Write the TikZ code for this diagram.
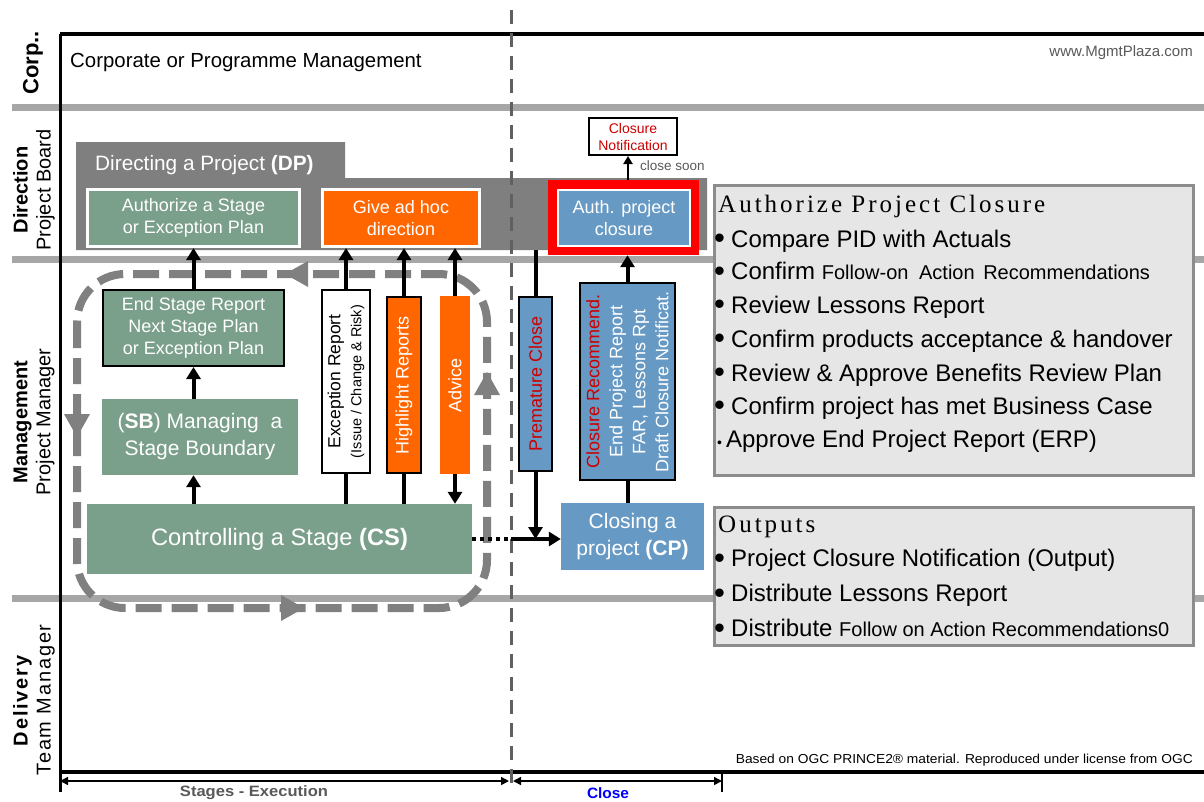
\documentclass[tikz,border=0pt]{standalone}
\usepackage{fontspec}
\usepackage{graphicx}
\setmainfont{Liberation Sans}
\newfontfamily\ttlfont[LetterSpace=12]{Liberation Serif}
\newfontfamily\lsfont[LetterSpace=9]{Liberation Sans}
\usetikzlibrary{arrows.meta,calc}
\definecolor{sage}{HTML}{7A9F8A}
\definecolor{pblue}{HTML}{6699C4}
\definecolor{porange}{HTML}{FF6600}
\definecolor{dpgray}{HTML}{7F7F7F}
\definecolor{bandgray}{HTML}{A6A6A6}
\definecolor{loopgray}{HTML}{808080}
\definecolor{rfill}{HTML}{E6E6E6}
\definecolor{rgray}{HTML}{8C8C8C}
\definecolor{cred}{HTML}{CC0000}
\definecolor{divgray}{HTML}{606060}
\definecolor{txtgray}{HTML}{595959}
\newcommand{\fs}[2]{\fontsize{#1}{#2}\selectfont}
\newcommand{\bul}{\hspace{-2pt}\makebox[9pt][l]{\raisebox{-1.5pt}{\fs{31}{26}•}}\hspace{8pt}}
\begin{document}
\begin{tikzpicture}[x=1pt,y=-1pt,
  box/.style={inner sep=0pt, align=center, text=white},
  arr/.style={line width=4pt, -{Triangle[length=12pt,width=14pt]}},
  plainln/.style={line width=4pt},
  band/.style={line width=7pt, bandgray},
  rline/.style={anchor=base west, inner sep=0pt, font=\fs{24}{26}},
  rttl/.style={anchor=base west, inner sep=0pt, font=\ttlfont\fs{25}{27}},
  lanelbl/.style={rotate=90, align=center, inner sep=0pt},
  looparrow/.style={fill=loopgray}
]
\useasboundingbox (0,0) rectangle (1204,801);
\fill[white] (0,0) rectangle (1204,801);

% swimlane bands
\draw[band] (12,107) -- (1204,107);
\draw[band] (12,259) -- (1204,259);
\draw[band] (12,598) -- (1204,598);

% frame
\draw[line width=3.5pt] (60,34) -- (1204,34);
\draw[line width=3pt] (60,34) -- (60,792);
\draw[line width=4pt] (60,772) -- (1204,772);

% lane labels
\node[lanelbl, font=\fs{22}{24}\bfseries] (corp) at (33,63) {Corp..};
\node[lanelbl, font=\fs{20}{23}] (dir) at (34,190) {\textbf{Direction}\\Project Board};
\node[lanelbl, font=\fs{20}{23}] (mgmt) at (34,422) {\textbf{Management}\\Project Manager};
\node[lanelbl, font=\lsfont\fs{20}{23}] (deliv) at (34,700) {\textbf{Delivery}\\Team Manager};

\node[anchor=west, inner sep=0pt, font=\fs{20.4}{22}] (corptxt) at (70,62.5) {Corporate or Programme Management};
\node[anchor=east, inner sep=0pt, text=txtgray, font=\fs{15}{16}] (www) at (1193,53) {www.MgmtPlaza.com};

% Directing a Project region
\fill[dpgray] (76,142) -- (345,142) -- (345,178) -- (707,178) -- (707,250) -- (76,250) -- cycle;
\coordinate (dpb) at (0,250);
\node[anchor=west, inner sep=0pt, text=white, font=\fs{20.8}{24}] (dpt) at (95,165) {Directing a Project \textbf{(DP)}};

% divider
\draw[divgray, line width=3pt, dash pattern=on 14pt off 9pt] (511,10) -- (511,792);
\coordinate (dv) at (511,0);

% stage loop
\draw[loopgray, line width=8pt, dash pattern=on 26pt off 10pt, rounded corners=48pt] (77,274) rectangle (487,608);
\fill[looparrow] (285,274) -- (308,261) -- (308,287) -- cycle;
\fill[looparrow] (77,437) -- (64,414) -- (90,414) -- cycle;
\fill[looparrow] (487,372) -- (474,395) -- (500,395) -- cycle;
\fill[looparrow] (304,608) -- (281,595) -- (281,621) -- cycle;

% DP boxes
\node[box, fill=sage, draw=white, line width=3pt, minimum width=212pt, minimum height=57pt, font=\fs{18}{22}] (auth) at (193.5,218) {Authorize a Stage\\or Exception Plan};
\node[box, fill=porange, draw=white, line width=3pt, minimum width=157pt, minimum height=57pt, font=\fs{18}{22}] (adhoc) at (401,218) {Give ad hoc\\direction};
\node[fill=red, minimum width=151pt, minimum height=75pt, inner sep=0pt] (apcred) at (623.5,217.5) {};
\node[box, fill=pblue, draw=white, line width=2pt, minimum width=132pt, minimum height=56pt, font=\fs{18}{22}] (apc) at (624,218) {Auth. project\\closure};
\node[box, fill=white, draw=black, line width=2pt, text=cred, minimum width=88pt, minimum height=37pt, font=\fs{14}{17}] (cn) at (633,136.5) {Closure\\Notification};
\draw[line width=2pt, -{Triangle[length=8pt,width=9pt]}] ([xshift=-5pt]cn.south |- apcred.north) -- ([xshift=-5pt]cn.south);
\node[anchor=west, inner sep=0pt, text=txtgray, font=\fs{13.5}{14}] (csoon) at (640,166) {close soon};

% Management boxes
\node[box, fill=sage, draw=black, line width=2pt, minimum width=181pt, minimum height=76pt, font=\fs{18}{22}] (esr) at (193.5,328) {End Stage Report\\Next Stage Plan\\or Exception Plan};
\node[box, fill=sage, minimum width=196pt, minimum height=76pt, font=\fs{21}{27}] (sb) at (200,437) {(\textbf{SB}) Managing\ \ a\\Stage Boundary};
\node[box, fill=sage, minimum width=385pt, minimum height=70pt, font=\fs{23.7}{26}] (cs) at (279.5,539) {Controlling a Stage \textbf{(CS)}};
\node[box, rotate=90, fill=white, draw=black, line width=2pt, text=black, minimum width=183pt, minimum height=48pt, font=\fs{17.5}{21}] (er) at (346,381.5) {Exception Report\\{\fs{14.5}{18}(Issue / Change \& Risk)}};
\node[box, rotate=90, fill=porange, draw=black, line width=2pt, minimum width=176pt, minimum height=34pt, font=\fs{18}{20}] (hr) at (404,385) {Highlight Reports};
\node[box, rotate=90, fill=porange, minimum width=178pt, minimum height=30pt, font=\fs{18}{20}] (adv) at (455,385) {Advice};
\node[box, rotate=90, fill=pblue, draw=black, line width=2pt, text=cred, minimum width=174pt, minimum height=33pt, font=\fs{18}{20}] (pc) at (535.5,384) {Premature Close};
\node[box, rotate=90, fill=pblue, draw=black, line width=2pt, minimum width=197pt, minimum height=95pt, font=\fs{18}{23}] (cr) at (627.5,381.5) {\textcolor{cred}{Closure Recommend.}\\End Project Report\\FAR, Lessons Rpt\\Draft Closure Notificat.};
\node[box, fill=pblue, minimum width=143pt, minimum height=67pt, font=\fs{21}{27}] (cp) at (632.5,536.5) {Closing a\\project \textbf{(CP)}};

% connectors
\draw[arr] (esr.north) -- (esr.north |- auth.south);
\draw[arr] (esr.south |- sb.north) -- (esr.south);
\draw[arr] (esr |- cs.north) -- (esr |- sb.south);
\draw[plainln] (er |- cs.north) -- (er.west);
\draw[arr] (er.east) -- (er |- adhoc.south);
\draw[plainln] (hr |- cs.north) -- (hr.west);
\draw[arr] (hr.east) -- (hr |- adhoc.south);
\draw[arr] (adv.west) -- (adv |- cs.north);
\draw[arr] (adv.east) -- (adv |- adhoc.south);
\draw[plainln] (pc |- dpb) -- (pc.east);
\draw[arr] (pc.west) -- (pc |- cs.east);
\draw[line width=4pt, dash pattern=on 4pt off 4pt] (cs.east) -- (dv |- cs.east);
\draw[arr] (dv |- cs.east) -- (cp.west |- cs.east);
\draw[plainln] (cr |- cp.north) -- (cr.west);
\draw[arr] (cr.east) -- (cr |- apcred.south);

% right info boxes
\node[draw=rgray, line width=3pt, fill=rfill, minimum width=479pt, minimum height=290pt, inner sep=0pt] (apcbox) at (954,330.5) {};
\node[rttl] (t1) at (718,212) {Authorize Project Closure};
\node[rline] (l1) at (716,247) {\bul Compare PID with Actuals};
\node[rline] (l2) at (716,279.5) {\bul Confirm {\fs{20}{22}Follow-on\hspace{5pt} Action\hspace{3pt} Recommendations}};
\node[rline] (l3) at (716,313) {\bul Review Lessons Report};
\node[rline] (l4) at (716,347) {\bul Confirm products acceptance \& handover};
\node[rline] (l5) at (716,381) {\bul Review \& Approve Benefits Review Plan};
\node[rline] (l6) at (716,414) {\bul Confirm project has met Business Case};
\node[rline] (l7) at (717,447.5) {{\fs{14}{12}•}\,Approve End Project Report (ERP)};

\node[draw=rgray, line width=3pt, fill=rfill, minimum width=479pt, minimum height=138pt, inner sep=0pt] (outbox) at (954,576.5) {};
\node[rttl] (t2) at (718,532.5) {Outputs};
\node[rline] (o1) at (716,566.7) {\bul Project Closure Notification (Output)};
\node[rline] (o2) at (716,601.7) {\bul Distribute Lessons Report};
\node[rline] (o3) at (716,636.7) {\bul Distribute {\fs{20}{22}Follow on Action Recommendations0}};

% footer
\node[anchor=east, inner sep=0pt, font=\fs{13}{14}] (based) at (1193,760) {\resizebox{457pt}{\height}{Based on OGC PRINCE2® material. Reproduced under license from OGC}};

% time axis
\coordinate (d0) at (60,781);
\coordinate (d1) at (509,781);
\coordinate (d2) at (513,781);
\coordinate (d3) at (722,781);
\draw[line width=2pt] (722,772) -- (722,792);
\draw[line width=1.5pt, {Triangle[length=8pt,width=8pt]}-{Triangle[length=8pt,width=8pt]}] (d0) -- (d1);
\draw[line width=1.5pt, {Triangle[length=8pt,width=8pt]}-{Triangle[length=8pt,width=8pt]}] (d2) -- (d3);
\node[inner sep=0pt, text=txtgray, font=\fs{15}{16}\bfseries] (stx) at (254,793) {\resizebox{148pt}{\height}{Stages - Execution}};
\node[inner sep=0pt, text=blue, font=\fs{15}{16}\bfseries] (clx) at (608,793) {\resizebox{42pt}{\height}{Close}};
\end{tikzpicture}
\end{document}
